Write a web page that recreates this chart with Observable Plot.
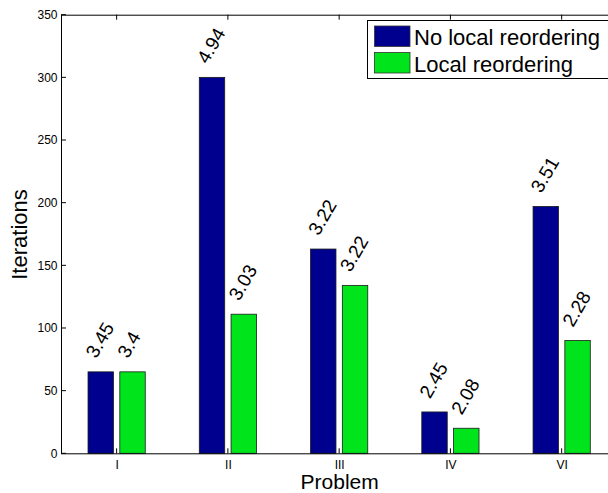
<!DOCTYPE html>
<html>
<head>
<meta charset="utf-8">
<script src="https://cdn.jsdelivr.net/npm/d3@7"></script>
<script src="https://cdn.jsdelivr.net/npm/@observablehq/plot@0.6"></script>
<style>
  html, body { margin: 0; padding: 0; overflow: hidden; background: #fff; }
  #chart svg { display: block; }
</style>
</head>
<body>
<div id="chart"></div>
<script>
// Iterations per test problem, with and without local reordering
const problems = ["I", "II", "III", "IV", "VI"];
const seriesNames = ["No local reordering", "Local reordering"];
const seriesColors = ["#00008F", "#00E41C"];
const noLocalIterations = [65, 300, 163, 33, 197];
const localIterations = [65, 111, 134, 20, 90];
const noLocalLabels = ["3.45", "4.94", "3.22", "2.45", "3.51"];
const localLabels = ["3.4", "3.03", "3.22", "2.08", "2.28"];
const yTicks = [0, 50, 100, 150, 200, 250, 300, 350];

const FONT = '"Liberation Sans", Arial, Helvetica, sans-serif';
const n = problems.length;
// grouped-bar geometry: two bars per group
const groupWidth = 2 / 3.5;
const barWidth = (groupWidth / 2) * 0.8;

const seriesValues = [noLocalIterations, localIterations];
const seriesLabels = [noLocalLabels, localLabels];
const rows = [];
problems.forEach((p, i) => {
  seriesValues.forEach((vals, s) => {
    rows.push({
      problem: p,
      pos: i + 1 + (s - 0.5) * (groupWidth / 2),
      value: vals[i],
      series: seriesNames[s],
      label: seriesLabels[s][i]
    });
  });
});

const W = 608, H = 493;
const mLeft = 61, mTop = 14.7, mBottom = 39.7;

const plot = Plot.plot({
  width: W,
  height: H,
  marginLeft: mLeft,
  marginRight: 0,
  marginTop: mTop,
  marginBottom: mBottom,
  style: { fontFamily: FONT, background: "#fff", color: "#000" },
  x: { type: "linear", domain: [0.5, n + 0.5], range: [mLeft, 617.3] },
  y: { domain: [0, 350] },
  color: { domain: seriesNames, range: seriesColors },
  marks: [
    Plot.rect(rows, {
      x1: d => d.pos - barWidth / 2,
      x2: d => d.pos + barWidth / 2,
      y1: 0,
      y2: "value",
      fill: "series",
      stroke: "#1a1a1a",
      strokeWidth: 0.8
    }),
    Plot.ruleY([0, 350], { stroke: "#000", strokeWidth: 1 }),
    Plot.ruleX([0.5], { stroke: "#000", strokeWidth: 1 }),
    Plot.axisY({ ticks: yTicks, tickSize: 0, tickPadding: 4, fontSize: 12, label: null }),
    Plot.axisX({
      ticks: d3.range(1, n + 1),
      tickFormat: i => problems[i - 1],
      tickSize: 0,
      tickPadding: 7,
      fontSize: 12,
      label: null
    }),
    Plot.text(rows, {
      x: "pos",
      y: "value",
      text: "label",
      rotate: -60,
      textAnchor: "start",
      lineAnchor: "bottom",
      dx: -5,
      dy: -13,
      fontSize: 19,
      fill: "#000"
    }),
    Plot.text(["Problem"], {
      x: () => (n + 1) / 2,
      y: () => 0,
      text: d => d,
      textAnchor: "middle",
      lineAnchor: "bottom",
      dy: 35,
      fontSize: 21,
      fill: "#000"
    }),
    Plot.text(["Iterations"], {
      frameAnchor: "left",
      text: d => d,
      rotate: -90,
      textAnchor: "middle",
      lineAnchor: "bottom",
      dx: -34.5,
      fontSize: 22,
      fill: "#000"
    })
  ]
});

// inward tick marks on the axes box
const xs = plot.scale("x"), ys = plot.scale("y");
const svg = d3.select(plot);
const tickG = svg.append("g").attr("stroke", "#000").attr("stroke-width", 1);
yTicks.forEach(t => {
  const y = ys.apply(t);
  tickG.append("line").attr("x1", mLeft).attr("x2", mLeft + 5).attr("y1", y).attr("y2", y);
});
d3.range(1, n + 1).forEach(i => {
  const x = xs.apply(i);
  tickG.append("line").attr("x1", x).attr("x2", x).attr("y1", mTop).attr("y2", mTop + 5);
  tickG.append("line").attr("x1", x).attr("x2", x).attr("y1", H - mBottom).attr("y2", H - mBottom - 5);
});

// legend box in the upper right
const lg = svg.append("g").attr("font-family", FONT).attr("text-anchor", "start");
lg.append("rect")
  .attr("x", 367.5).attr("y", 20.5)
  .attr("width", 270).attr("height", 58)
  .attr("fill", "#fff").attr("stroke", "#000").attr("stroke-width", 1);
seriesNames.forEach((name, k) => {
  lg.append("rect")
    .attr("x", 374.5).attr("y", 26 + k * 26.5)
    .attr("width", 35.5).attr("height", 20.5)
    .attr("fill", seriesColors[k]).attr("stroke", "#333").attr("stroke-width", 0.8);
  lg.append("text")
    .attr("x", 414).attr("y", 45 + k * 26.8)
    .attr("font-size", 22).attr("fill", "#000")
    .attr("text-anchor", "start")
    .text(name);
});

document.getElementById("chart").appendChild(plot);
</script>
</body>
</html>
